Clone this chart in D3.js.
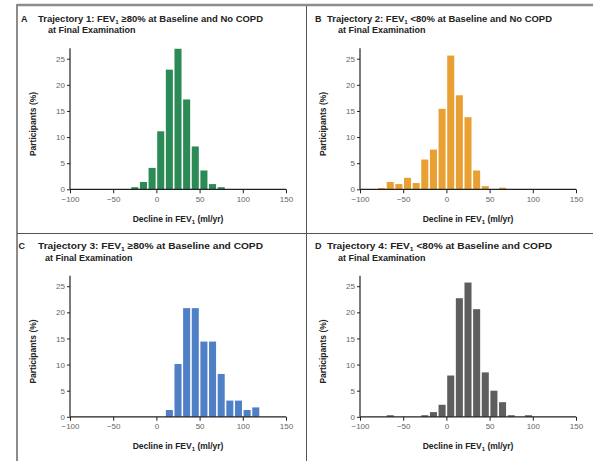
<!DOCTYPE html>
<html>
<head>
<meta charset="utf-8">
<script src="https://cdn.jsdelivr.net/npm/d3@7"></script>
<style>
  body { margin: 0; background: #fff; }
  text { font-family: "Liberation Sans", Arial, sans-serif; }
</style>
</head>
<body>
<div id="chart"></div>
<script>
// Data: percent of participants per 10 ml/yr bin (bin lower edges below)
const binStarts = [-80, -70, -60, -50, -40, -30, -20, -10, 0, 10, 20, 30, 40, 50, 60, 70, 80, 90, 100, 110];
const traj1 = [0, 0, 0, 0, 0, 0.4, 1.4, 4.1, 11.1, 22.9, 26.9, 17.2, 8.2, 3.6, 1.0, 0.4, 0, 0, 0, 0];
const traj2 = [0.25, 1.4, 1.0, 2.2, 1.2, 5.7, 7.6, 15.4, 25.6, 18.0, 13.8, 3.6, 0.6, 0, 0.3, 0, 0, 0, 0, 0];
const traj3 = [0, 0, 0, 0, 0, 0, 0, 0, 0, 1.3, 10.1, 20.8, 20.8, 14.4, 14.4, 8.2, 3.1, 3.1, 1.3, 1.8];
const traj4 = [0, 0.3, 0, 0, 0, 0.3, 0.9, 2.3, 7.9, 22.7, 25.7, 20.6, 8.5, 5.0, 2.8, 0.3, 0, 0.3, 0, 0];

const xTicks = [-100, -50, 0, 50, 100, 150];
const yTicks = [0, 5, 10, 15, 20, 25];

const letters = ["A", "B", "C", "D"];
const titleNums = ["1", "2", "3", "4"];
const titleCmp = ["\u226580%", "<80%", "\u226580%", "<80%"];
const titleEnd = ["and No COPD", "and No COPD", "and COPD", "and COPD"];
const colors = ["#2b8a55", "#e9a033", "#4f7fc4", "#5e5e5e"];
const series = [traj1, traj2, traj3, traj4];

const width = 593;
const height = 461;

const svg = d3.select("#chart")
  .append("svg")
  .attr("width", width)
  .attr("height", height);

// frame
svg.append("line").attr("x1", 17).attr("x2", 593).attr("y1", 5).attr("y2", 5)
  .attr("stroke", "#8c8c8c").attr("stroke-width", 2.5);
svg.append("line").attr("x1", 17).attr("x2", 17).attr("y1", 4).attr("y2", 461)
  .attr("stroke", "#8c8c8c").attr("stroke-width", 2);
svg.append("line").attr("x1", 306.5).attr("x2", 306.5).attr("y1", 6).attr("y2", 461)
  .attr("stroke", "#555").attr("stroke-width", 1);
svg.append("line").attr("x1", 17).attr("x2", 593).attr("y1", 233.5).attr("y2", 233.5)
  .attr("stroke", "#555").attr("stroke-width", 1);

const x = d3.scaleLinear().domain([-100, 150]).range([70, 286]);
const y = d3.scaleLinear().domain([0, 27]).range([189.3, 48.25]);

series.forEach((vals, i) => {
  const col = i % 2;
  const row = Math.floor(i / 2);
  const ox = col * 290;
  const oy = row * 227.5;

  const g = svg.append("g").attr("transform", `translate(${ox}, ${oy})`);

  // title
  const letterX = col === 0 ? (row === 0 ? 21 : 18.5) : 25;
  const textX = col === 0 ? 38 : 37;
  const line2X = col === 0 ? (row === 0 ? 48 : 45) : 48;
  g.append("text")
    .attr("x", letterX).attr("y", 21.5)
    .attr("font-size", 9).attr("font-weight", "bold").attr("fill", "#222")
    .text(letters[i]);
  const t = g.append("text")
    .attr("x", textX).attr("y", 21.5)
    .attr("font-size", 9).attr("font-weight", "bold").attr("fill", "#222")
    .attr("textLength", 225).attr("lengthAdjust", "spacingAndGlyphs");
  t.append("tspan").text(`Trajectory ${titleNums[i]}: FEV`);
  t.append("tspan").attr("font-size", 6).attr("dy", 2).text("1");
  t.append("tspan").attr("dy", -2).text(` ${titleCmp[i]} at Baseline ${titleEnd[i]}`);
  g.append("text")
    .attr("x", line2X).attr("y", 33)
    .attr("font-size", 9).attr("font-weight", "bold").attr("fill", "#222")
    .text("at Final Examination");

  // bars
  g.selectAll(".bar")
    .data(binStarts.map((b, k) => ({b: b, v: vals[k]})).filter(d => d.v > 0))
    .enter()
    .append("rect")
    .attr("x", d => x(d.b) + 0.8)
    .attr("y", d => y(d.v))
    .attr("width", d => x(d.b + 10) - x(d.b) - 1.6)
    .attr("height", d => y(0) - y(d.v))
    .attr("fill", colors[i]);

  // axes
  const xAxis = g.append("g")
    .attr("transform", `translate(0, ${y(0)})`)
    .call(d3.axisBottom(x).tickValues(xTicks).tickSize(4).tickPadding(3)
      .tickFormat(d => d < 0 ? "\u2212" + Math.abs(d) : d));
  const yAxis = g.append("g")
    .attr("transform", `translate(${x(-100)}, 0)`)
    .call(d3.axisLeft(y).tickValues(yTicks).tickSize(3).tickPadding(2));
  [xAxis, yAxis].forEach(a => {
    a.select(".domain").attr("stroke", "#222").attr("stroke-width", 1.2);
    a.selectAll(".tick line").attr("stroke", "#222");
    a.selectAll(".tick text").attr("fill", "#666").attr("font-size", 8)
      .attr("font-family", "Liberation Sans, Arial, sans-serif");
  });
  yAxis.select(".domain").attr("d", `M0,${y(0)}V${y(27)}`);
  xAxis.select(".domain").attr("d", `M${x(-100)},0H${x(150)}`);

  // axis labels
  const xl = g.append("text")
    .attr("x", (x(-100) + x(150)) / 2).attr("y", 221.5)
    .attr("text-anchor", "middle")
    .attr("font-size", 8.5).attr("font-weight", "bold").attr("fill", "#222");
  xl.append("tspan").text("Decline in FEV");
  xl.append("tspan").attr("font-size", 6).attr("dy", 2).text("1");
  xl.append("tspan").attr("dy", -2).text(" (ml/yr)");

  g.append("text")
    .attr("transform", `translate(35.5, ${(y(0) + y(25)) / 2}) rotate(-90)`)
    .attr("text-anchor", "middle")
    .attr("font-size", 8.5).attr("font-weight", "bold").attr("fill", "#222")
    .text("Participants (%)");
});
</script>
</body>
</html>
